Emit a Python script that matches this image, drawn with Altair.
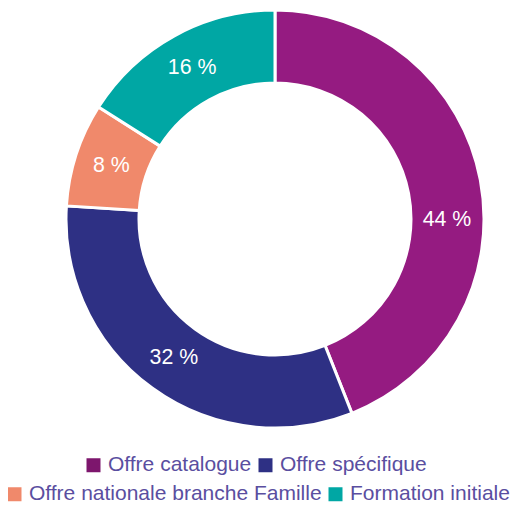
import altair as alt
import pandas as pd

categories = ["Offre catalogue", "Offre spécifique", "Offre nationale branche Famille", "Formation initiale"]
values = [44, 32, 8, 16]
arc_colors = ["#951B81", "#2E3084", "#F0896B", "#00A7A4"]
legend_colors = ["#7D166D", "#2E3084", "#F0896B", "#00A7A4"]

df = pd.DataFrame({
    "category": categories,
    "value": values,
    "order": list(range(len(categories))),
    "label": [f"{v} %" for v in values],
})

FONT = "Liberation Sans"
FS = 21.33
LEG_FS = 21
LABEL_COLOR = "#5A4EA0"
FIRST = categories[0]

base = alt.Chart(df)

donut = base.mark_arc(innerRadius=136, outerRadius=209, stroke="white", strokeWidth=3).encode(
    theta=alt.Theta("value:Q", stack=True),
    order=alt.Order("order:Q"),
    color=alt.Color("category:N", scale=alt.Scale(domain=categories, range=arc_colors), legend=None),
)

# labels of all slices except the first (the first is hidden here)
text = base.mark_text(radius=172, fontSize=FS, font=FONT, color="white").encode(
    theta=alt.Theta("value:Q", stack=True),
    order=alt.Order("order:Q"),
    text="label:N",
    opacity=alt.condition(alt.datum.category == FIRST, alt.value(0), alt.value(1)),
)

# label of the first slice, nudged down as in the reference
text_first = base.transform_filter(alt.datum.category == FIRST).mark_text(
    radius=172, fontSize=FS, font=FONT, color="white", dx=3, dy=33
).encode(
    theta=alt.Theta("value:Q", stack=True),
    order=alt.Order("order:Q"),
    text="label:N",
)


def legend_layer(cats, cols, lx, ly):
    return base.transform_filter(
        alt.FieldOneOfPredicate(field="category", oneOf=cats)
    ).mark_square(size=0, opacity=0).encode(
        color=alt.Color(
            "category:N",
            scale=alt.Scale(domain=cats, range=cols),
            legend=alt.Legend(
                title=None,
                orient="none",
                legendX=lx,
                legendY=ly,
                direction="horizontal",
                symbolType="square",
                symbolSize=196,
                symbolStrokeWidth=0,
                symbolOpacity=1,
                labelFont=FONT,
                labelFontSize=LEG_FS,
                labelColor=LABEL_COLOR,
                labelOffset=4,
                columnPadding=3,
                padding=0,
                labelLimit=400,
            ),
        )
    )


leg1 = legend_layer(categories[:2], legend_colors[:2], 18, 445.5)
leg2 = legend_layer(categories[2:], legend_colors[2:], -61, 474.5)

chart = alt.layer(donut, text, text_first, leg1, leg2).resolve_scale(
    color="independent"
).properties(
    width=420,
    height=420,
    autosize=alt.AutoSizeParams(type="none"),
    padding={"left": 57, "top": 1, "right": 29, "bottom": 76},
).configure_view(stroke=None)

chart.save("out.html", embed_options={"renderer": "svg", "actions": False})
